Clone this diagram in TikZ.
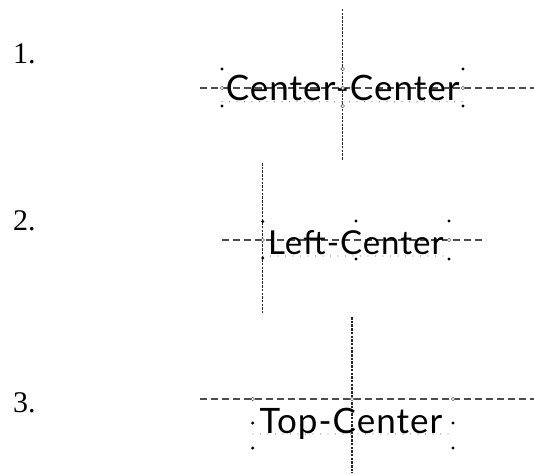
\documentclass[tikz,border=0pt]{standalone}
\usepackage{fontspec}
\setmainfont{Liberation Serif}
\newfontfamily\demofont[LetterSpace=3]{Lato}
\usepackage{tikz}

\begin{document}
\begin{tikzpicture}[x=1pt, y=-1pt,
  num/.style={anchor=base west, inner sep=0pt, font=\fontsize{30}{36}\selectfont},
  demo/.style={inner sep=0pt, font=\demofont\fontsize{35}{40}\selectfont},
  hguide/.style={draw=black!70, line width=1.2pt, dash pattern=on 7pt off 4pt},
  vguide/.style={draw=black!85, line width=1.2pt, dash pattern=on 2.5pt off 1.2pt},
  baseln/.style={draw=black!50, line width=1.2pt, line cap=round, dash pattern=on 0pt off 7.5pt},
  corner/.style={circle, fill=black, inner sep=0pt, minimum size=3.4pt},
  pin/.style={circle, draw=black!60, fill=white, inner sep=0pt, minimum size=3.6pt, line width=0.6pt}]
  \useasboundingbox (0,0) rectangle (534,473);

  %Numbers
  \node[num] (n1) at (13,63.3) {1.};
  \node[num] (n2) at (13,230) {2.};
  \node[num] (n3) at (13,412.7) {3.};

  %1. Center-Center
  \coordinate (h1w) at (200,88);
  \coordinate (h1e) at (534,88);
  \coordinate (v1n) at (342.7,9);
  \coordinate (v1s) at (342.7,160);
  \coordinate (b1w) at (222,101.7);
  \coordinate (b1e) at (463,101.7);
  \draw[hguide] (h1w) -- (h1e);
  \draw[vguide] (v1n) -- (v1s);
  \draw[baseln] (b1w) -- (b1e);
  \node[demo, anchor=base] (t1) at (342.7,101) {Center-Center};
  \foreach \x/\y [count=\i] in {222/69, 222/106, 463/69, 463/106}
    \node[corner] (c1\i) at (\x,\y) {};
  \foreach \x/\y [count=\i] in {222/88, 342.7/88, 463/88, 342.7/69, 342.7/106}
    \node[pin] (p1\i) at (\x,\y) {};

  %2. Left-Center
  \coordinate (h2w) at (222,240);
  \coordinate (h2e) at (486,240);
  \coordinate (v2n) at (262.7,163);
  \coordinate (v2s) at (262.7,313);
  \coordinate (b2w) at (263,256);
  \coordinate (b2e) at (449,256);
  \draw[hguide] (h2w) -- (h2e);
  \draw[vguide] (v2n) -- (v2s);
  \draw[baseln] (b2w) -- (b2e);
  \node[demo, anchor=base west, font=\demofont\fontsize{33}{40}\selectfont] (t2) at (268,254.3) {Left-Center};
  \foreach \x/\y [count=\i] in {262.7/221.5, 262.7/258, 356/221, 356/259, 449/221, 449/259}
    \node[corner] (c2\i) at (\x,\y) {};
  \foreach \x/\y [count=\i] in {262.7/240, 449/240}
    \node[pin] (p2\i) at (\x,\y) {};

  %3. Top-Center
  \coordinate (h3w) at (200,399);
  \coordinate (h3e) at (534,399);
  \coordinate (v3n) at (352,317);
  \coordinate (v3s) at (352,473);
  \coordinate (b3w) at (253,434);
  \coordinate (b3e) at (453,434);
  \draw[hguide] (h3w) -- (h3e);
  \draw[vguide] (v3n) -- (v3s);
  \draw[baseln] (b3w) -- (b3e);
  \node[demo, anchor=base] (t3) at (351,433) {Top-Center};
  \foreach \x/\y [count=\i] in {252.7/423, 252.7/448, 453/423, 453/448}
    \node[corner] (c3\i) at (\x,\y) {};
  \foreach \x/\y [count=\i] in {252.7/399, 352/399, 453/399}
    \node[pin] (p3\i) at (\x,\y) {};
\end{tikzpicture}
\end{document}
